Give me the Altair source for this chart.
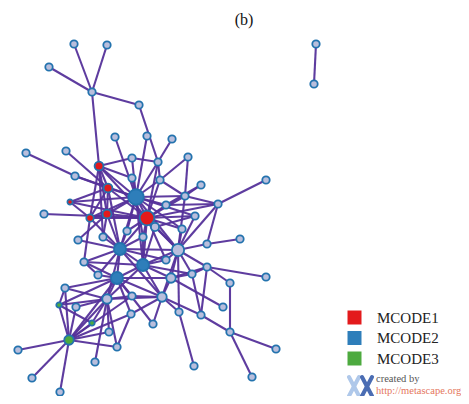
import altair as alt
import pandas as pd

# ---------------- data ----------------
node_names = ["A","B","C","D","E","F","G","H","I","J","R1","K","L","M","N","R2","O","P","Q","T",
              "R3","B1","S","U","V","W","R4","R5","R6","X","Y","Z","AA","AB","AC","AD","AE",
              "B2","L1","AF","AG","B3","AH","AI","AJ","B4","L2","AK","AL","AM","L3","AN","L4","AO",
              "G1","AP","AQ","AR","AS","AT","G2","AU","AV","AW","G3","AX","AY","AZ","BA","BB","BC","BD","BE",
              "IS1","IS2"]
node_x = [74,107,49,92,139,115,147,172,26,66,99,132,158,188,75,108,132,160,201,266,
          70,136,185,166,218,44,90,107,147,195,155,127,182,78,103,143,240,
          120,178,207,84,143,166,207,98,117,171,192,266,65,107,132,162,230,
          59,76,223,179,201,131,92,153,109,230,69,117,18,276,95,194,32,252,60,
          316,314]
node_y = [44,45,67,92,105,137,136,139,153,151,166,158,162,157,176,188,178,180,185,180,
          202,197,196,205,204,214,218,214,218,216,227,231,229,240,237,237,239,
          249,250,244,262,265,260,267,275,278,278,274,277,288,299,296,297,283,
          305,307,307,312,315,314,323,324,332,332,340,347,350,349,362,366,378,377,392,
          44,84]
group_of = {"R1":"MCODE1","R2":"MCODE1","R3":"MCODE1","R4":"MCODE1","R5":"MCODE1","R6":"MCODE1",
            "B1":"MCODE2","B2":"MCODE2","B3":"MCODE2","B4":"MCODE2",
            "G1":"MCODE3","G2":"MCODE3","G3":"MCODE3"}
weight_of = {"R3":2.2,"G1":2.4,"G2":2.4,"R1":6.5,"R2":6.5,"R5":6.5,"Y":5.5,
             "L2":7.5,"L3":7.5,"L4":7.5,"G3":7.5,"B2":12,"B3":12,"B4":12,"L1":12.5,"R6":18,"B1":20}

edges = ["A-D","B-D","C-D","D-E","D-R1","E-L","F-B1","G-B1","H-L","I-N","N-B1","J-R2",
         "R1-K","R1-B1","R1-R2","R1-R5","R1-R6","R1-AC","R1-R4",
         "K-B1","K-L","O-B1","O-R1","L-B1","L-P","L-R6","M-S","M-P",
         "P-B1","P-R6","P-S","Q-S","Q-U","T-V","V-AF","V-U","V-R6","V-L1","V-S",
         "R2-B1","R2-R4","R2-R5","R2-R6","N-R2","R2-B2",
         "R3-R4","R3-R6","R3-B1","R3-R2","W-R6",
         "R4-R5","R4-B1","R4-B2","R4-AG","R4-R6",
         "R5-B1","R5-R6","R5-B2","R5-AC",
         "B1-R6","B1-S","B1-U","B1-Z","B1-AD","B1-B2","B1-B3","B1-X","B1-AA","B1-L1",
         "R6-Y","R6-Z","R6-AD","R6-L1","R6-S","R6-X","R6-U","R6-B2","R6-B3","R6-AA","R6-AH",
         "S-L1","X-L1","X-Y","Y-L1","Y-B3","Z-B2","AA-L1",
         "AB-B2","AB-R5","AC-B2","AD-B3","AD-B2","AE-AF","AF-L1",
         "B2-B3","B2-B4","B2-L1","B2-AG","B2-AJ","B2-L3","B2-L4","B2-AH",
         "L1-AI","L1-B3","L1-AH","L1-L2","L1-AK","L1-L4","L1-AR",
         "AG-B4","AG-AJ","AG-B3",
         "B3-B4","B3-AH","B3-L2","B3-L4","B3-AK","B3-L3",
         "AI-AL","AI-AO","AI-AS","AI-L2","AK-AI","AJ-B4",
         "B4-L3","B4-AM","B4-G3","B4-AN","B4-L4","B4-L2","B4-G1","B4-AU",
         "L2-AK","L2-AQ","L2-L4","AK-AS",
         "AM-G3","AM-L3","AM-G1",
         "L3-G3","L3-G1","L3-BA","L3-AX","L3-AN","L3-L4","L3-AP","L3-G2",
         "AN-L4","AN-G3","L4-AR","L4-AS","L4-AU","L4-AT",
         "AS-AW","AO-AW","AW-AZ","AW-BD","AR-BB",
         "AT-G3","AT-AX","AT-B4","AV-G3","AV-L3",
         "G3-AY","G3-BC","G3-BE","G3-G1","G3-G2","G3-AP","G3-AX","G1-G2",
         "IS1-IS2"]

legend_labels = ["MCODE1", "MCODE2", "MCODE3"]
legend_colors = ["#E31A1C", "#2E7EBA", "#4DAA3F"]

# ---------------- tables ----------------
pos = {n: (x, y) for n, x, y in zip(node_names, node_x, node_y)}
nodes = pd.DataFrame({
    "name": node_names, "x": node_x, "y": node_y,
    "group": [group_of.get(n, "none") for n in node_names],
    "weight": [weight_of.get(n, 4.6) for n in node_names],
})
nodes["order"] = nodes["weight"]
edge_rows = []
for e in edges:
    a, b = e.split("-")
    edge_rows.append({"x": pos[a][0], "y": pos[a][1], "x2": pos[b][0], "y2": pos[b][1]})
edges_df = pd.DataFrame(edge_rows)

W, H = 453, 388
xs = alt.Scale(domain=[8, 8 + W], range=[0, W])
ys = alt.Scale(domain=[8, 8 + H], range=[0, H])

edge_layer = alt.Chart(edges_df).mark_rule(color="#55329A", strokeWidth=2.1, opacity=0.95).encode(
    x=alt.X("x:Q", scale=xs, axis=None),
    y=alt.Y("y:Q", scale=ys, axis=None),
    x2="x2:Q", y2="y2:Q",
)

node_layer = alt.Chart(nodes).mark_point(filled=True, shape="circle", stroke="#2373AE",
                                         strokeWidth=1.8, opacity=1).encode(
    x=alt.X("x:Q", scale=xs, axis=None),
    y=alt.Y("y:Q", scale=ys, axis=None),
    size=alt.Size("weight:Q", scale=alt.Scale(domain=[0, 20], range=[0, 240]), legend=None),
    fill=alt.Fill("group:N",
                  scale=alt.Scale(domain=["none"] + legend_labels, range=["#B9BEDC"] + legend_colors),
                  legend=alt.Legend(values=legend_labels, title=None, orient="none",
                                    legendX=339, legendY=302, symbolType="square",
                                    symbolSize=196, symbolStrokeWidth=0, symbolOpacity=1,
                                    labelFont="Liberation Serif", labelFontSize=15,
                                    labelColor="#222222", labelOffset=15, rowPadding=4.5,
                                    padding=0)),
    order=alt.Order("order:Q"),
)

one = alt.Data(values=[{}])
title_layer = alt.Chart(one).mark_text(text="(b)", font="Liberation Serif", fontSize=16,
                                       color="#111111", align="center", baseline="alphabetic").encode(
    x=alt.value(236), y=alt.value(17))
created_layer = alt.Chart(one).mark_text(text="created by", font="Liberation Serif", fontSize=10.5,
                                         color="#555555", align="left", baseline="middle").encode(
    x=alt.value(368), y=alt.value(371))
url_layer = alt.Chart(one).mark_text(text="http://metascape.org", font="Liberation Serif", fontSize=10.5,
                                     color="#E5775E", align="left", baseline="middle").encode(
    x=alt.value(368), y=alt.value(383))

logo = []
for (x0, x1, col) in [(341, 351, "#AFC8EA"), (354, 364, "#4B6DB3")]:
    for (ya, yb) in [(369, 388), (388, 369)]:
        logo.append(alt.Chart(one).mark_rule(color=col, strokeWidth=4, strokeCap="round").encode(
            x=alt.value(x0), x2=alt.value(x1), y=alt.value(ya), y2=alt.value(yb)))

chart = alt.layer(edge_layer, node_layer, title_layer, created_layer, url_layer, *logo).properties(
    width=W, height=H, padding=0, autosize=alt.AutoSizeParams(type="none")
).configure_view(stroke=None)

chart.save("out.html", embed_options={"renderer": "svg", "actions": False})
